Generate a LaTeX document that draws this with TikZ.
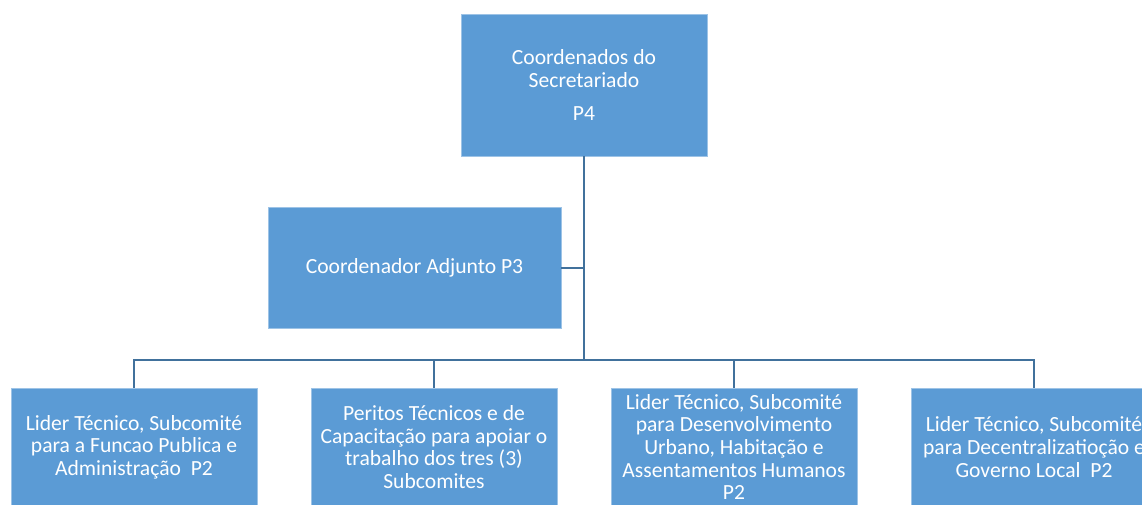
\documentclass[tikz,border=0pt]{standalone}
\usepackage{fontspec}
\setmainfont{Carlito}
\definecolor{boxfill}{HTML}{5B9BD5}
\definecolor{linec}{HTML}{41719C}
\tikzset{
  box/.style={fill=boxfill, draw=boxfill!60!white, line width=0.6pt, text=white, align=center,
    font=\fontsize{21.6}{22.6}\selectfont, inner sep=0pt},
  conn/.style={draw=linec, line width=2pt}
}
\begin{document}
\begin{tikzpicture}[x=1pt,y=-1pt]
\useasboundingbox (0,0) rectangle (1142,504);
\clip (0,0) rectangle (1142,504);
\node[box, minimum width=246pt, minimum height=142pt] (top) at (584,85)
  {Coordenados do\\Secretariado\\[10pt]P4};
\node[box, minimum width=293pt, minimum height=121pt] (adj) at (414.5,267.5)
  {Coordenador Adjunto P3};
\node[box, minimum width=246pt, minimum height=118pt] (b1) at (134,447)
  {Lider Técnico, Subcomité\\para a Funcao Publica e\\Administração\ \ P2};
\node[box, minimum width=246pt, minimum height=118pt] (b2) at (434,447)
  {Peritos Técnicos e de\\Capacitação para apoiar o\\trabalho dos tres (3)\\Subcomites};
\node[box, minimum width=246pt, minimum height=118pt] (b3) at (734,447)
  {Lider Técnico, Subcomité\\para Desenvolvimento\\Urbano, Habitação e\\Assentamentos Humanos\\P2};
\node[box, minimum width=246pt, minimum height=118pt] (b4) at (1034,447)
  {Lider Técnico, Subcomité\\para Decentralizatioção e\\Governo Local\ \ P2};
\coordinate (j) at (584,360);
\draw[conn] (top.south) -- (j);
\draw[conn] (adj.east) -- (adj.east -| j);
\draw[conn] (b1.north) |- (j) -| (b4.north);
\draw[conn] (b2.north) -- (b2.north |- j);
\draw[conn] (b3.north) -- (b3.north |- j);
\end{tikzpicture}
\end{document}
